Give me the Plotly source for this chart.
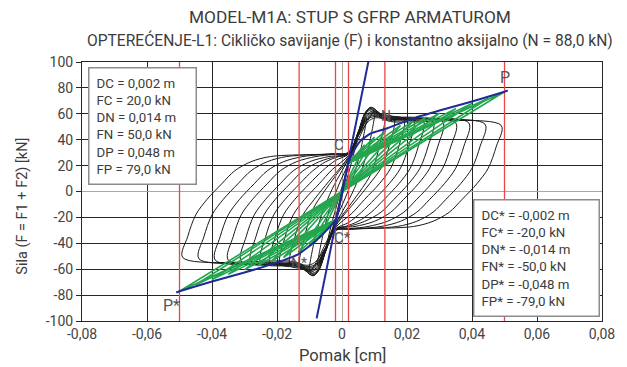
import plotly.graph_objects as go

# ---------------- data ----------------
X_TICKS = [-0.08, -0.06, -0.04, -0.02, 0, 0.02, 0.04, 0.06, 0.08]
X_TICK_TEXT = ["-0,08", "-0,06", "-0,04", "-0,02", "0", "0,02", "0,04", "0,06", "0,08"]
Y_TICKS = [-100, -80, -60, -40, -20, 0, 20, 40, 60, 80, 100]
Y_TICK_TEXT = ["-100", "-80", "-60", "-40", "-20", "0", "20", "40", "60", "80", "100"]

LOOP_X = [
    [-0.049, -0.0475, -0.045, -0.0415, -0.037, -0.033, -0.028, -0.022, -0.003, 0.002, 0.005, 0.0085, 0.011, 0.015, 0.049,
     0.0475, 0.045, 0.0415, 0.037, 0.033, 0.028, 0.022, 0.003, -0.002, -0.005, -0.0085, -0.011, -0.015, -0.049],
    [-0.044, -0.0425, -0.040, -0.0365, -0.032, -0.028, -0.023, -0.017, -0.003, 0.002, 0.005, 0.008, 0.0105, 0.0145, 0.044,
     0.0425, 0.040, 0.0365, 0.032, 0.028, 0.023, 0.017, 0.003, -0.002, -0.005, -0.008, -0.0105, -0.0145, -0.044],
    [-0.039, -0.0375, -0.035, -0.0315, -0.027, -0.023, -0.018, -0.012, -0.003, 0.002, 0.005, 0.008, 0.010, 0.014, 0.039,
     0.0375, 0.035, 0.0315, 0.027, 0.023, 0.018, 0.012, 0.003, -0.002, -0.005, -0.008, -0.010, -0.014, -0.039],
    [-0.035, -0.0335, -0.031, -0.0275, -0.023, -0.019, -0.014, -0.008, -0.003, 0.002, 0.005, 0.008, 0.010, 0.014, 0.035,
     0.0335, 0.031, 0.0275, 0.023, 0.019, 0.014, 0.008, 0.003, -0.002, -0.005, -0.008, -0.010, -0.014, -0.035],
    [-0.031, -0.0295, -0.027, -0.0235, -0.019, -0.015, -0.010, -0.004, 0.002, 0.005, 0.0075, 0.0095, 0.0135, 0.031,
     0.0295, 0.027, 0.0235, 0.019, 0.015, 0.010, 0.004, -0.002, -0.005, -0.0075, -0.0095, -0.0135, -0.031],
    [-0.028, -0.0265, -0.024, -0.0205, -0.016, -0.012, -0.007, -0.002, 0.002, 0.005, 0.0075, 0.0095, 0.0135, 0.028,
     0.0265, 0.024, 0.0205, 0.016, 0.012, 0.007, 0.002, -0.002, -0.005, -0.0075, -0.0095, -0.0135, -0.028],
    [-0.025, -0.0235, -0.021, -0.0175, -0.013, -0.009, -0.005, -0.001, 0.002, 0.005, 0.0072, 0.009, 0.013, 0.025,
     0.0235, 0.021, 0.0175, 0.013, 0.009, 0.005, 0.001, -0.002, -0.005, -0.0072, -0.009, -0.013, -0.025],
    [-0.022, -0.0205, -0.018, -0.0145, -0.010, -0.006, -0.002, 0.002, 0.005, 0.0072, 0.009, 0.013, 0.022,
     0.0205, 0.018, 0.0145, 0.010, 0.006, 0.002, -0.002, -0.005, -0.0072, -0.009, -0.013, -0.022],
    [-0.019, -0.0175, -0.015, -0.0115, -0.007, -0.003, 0.002, 0.005, 0.0072, 0.009, 0.0125, 0.019,
     0.0175, 0.015, 0.0115, 0.007, 0.003, -0.002, -0.005, -0.0072, -0.009, -0.0125, -0.019],
    [-0.016, -0.0145, -0.012, -0.0085, -0.004, 0.000, 0.002, 0.005, 0.007, 0.0088, 0.012, 0.016,
     0.0145, 0.012, 0.0085, 0.004, 0.000, -0.002, -0.005, -0.007, -0.0088, -0.012, -0.016],
    [-0.013, -0.0115, -0.009, -0.0055, -0.002, 0.002, 0.005, 0.007, 0.0085, 0.0105, 0.013,
     0.0115, 0.009, 0.0055, 0.002, -0.002, -0.005, -0.007, -0.0085, -0.0105, -0.013],
    [-0.010, -0.0085, -0.006, -0.003, 0.000, 0.002, 0.005, 0.008, 0.010,
     0.0085, 0.006, 0.003, 0.000, -0.002, -0.005, -0.008, -0.010],
    [-0.0075, -0.006, -0.004, -0.001, 0.002, 0.004, 0.006, 0.0075,
     0.006, 0.004, 0.001, -0.002, -0.004, -0.006, -0.0075],
    [-0.005, -0.0035, -0.001, 0.001, 0.003, 0.005, 0.0035, 0.001, -0.001, -0.003, -0.005],
    [-0.003, -0.001, 0.001, 0.003, 0.001, -0.001, -0.003],
]
LOOP_Y = [
    [-51, -35, -18, -6, 6, 16, 23, 27, 29, 30, 43, 55, 57, 54, 51,
     35, 18, 6, -6, -16, -23, -27, -29, -30, -43, -55, -57, -54, -51],
    [-52, -35, -18, -6, 6, 16, 23, 27, 29, 30, 43, 56, 58, 55, 52,
     35, 18, 6, -6, -16, -23, -27, -29, -30, -43, -56, -58, -55, -52],
    [-53, -35, -18, -6, 6, 16, 23, 27, 29, 30, 44, 57, 59, 56, 53,
     35, 18, 6, -6, -16, -23, -27, -29, -30, -44, -57, -59, -56, -53],
    [-53, -35, -18, -6, 6, 16, 23, 27, 28.5, 29.5, 44, 58, 60, 56, 53,
     35, 18, 6, -6, -16, -23, -27, -28.5, -29.5, -44, -58, -60, -56, -53],
    [-54, -35, -18, -6, 6, 16, 23, 27, 29, 44, 58, 61, 57, 54,
     35, 18, 6, -6, -16, -23, -27, -29, -44, -58, -61, -57, -54],
    [-54, -35, -18, -6, 6, 16, 23, 27, 29, 45, 59, 62, 57, 54,
     35, 18, 6, -6, -16, -23, -27, -29, -45, -59, -62, -57, -54],
    [-55, -35, -18, -6, 6, 16, 23, 27, 29, 46, 60, 63, 58, 55,
     35, 18, 6, -6, -16, -23, -27, -29, -46, -60, -63, -58, -55],
    [-55, -35, -18, -6, 6, 16, 24, 29, 46, 61, 64, 58, 55,
     35, 18, 6, -6, -16, -24, -29, -46, -61, -64, -58, -55],
    [-56, -35, -18, -6, 6, 17, 28, 46, 61, 65, 59, 56,
     35, 18, 6, -6, -17, -28, -46, -61, -65, -59, -56],
    [-57, -35, -18, -6, 8, 20, 27, 45, 60, 65, 60, 57,
     35, 18, 6, -8, -20, -27, -45, -60, -65, -60, -57],
    [-58, -35, -14, 0, 12, 26, 44, 58, 64, 61, 58,
     35, 14, 0, -12, -26, -44, -58, -64, -61, -58],
    [-62, -38, -16, 2, 16, 25, 40, 55, 62,
     38, 16, -2, -16, -25, -40, -55, -62],
    [-57, -35, -15, 5, 22, 36, 50, 57,
     35, 15, -5, -22, -36, -50, -57],
    [-45, -28, -5, 12, 30, 45, 28, 5, -12, -30, -45],
    [-32, -12, 10, 32, 12, -10, -32],
]

# idealised (green) cycles: peak displacement and force
GREEN_A = [0.05, 0.045, 0.04, 0.035, 0.03, 0.026, 0.022, 0.018, 0.0135, 0.01, 0.007]
GREEN_F = [77, 72, 68, 64, 60.5, 57.5, 54.5, 51, 47, 42, 36]
C_POINT = (0.002, 22)
C_STAR = (-0.002, -22)

# backbone (blue)
BACKBONE_X = [-0.051, -0.05, -0.04, -0.03, -0.022, -0.0135, -0.008, -0.002,
              0.002, 0.004, 0.006, 0.009, 0.0135, 0.022, 0.03, 0.04, 0.05, 0.051]
BACKBONE_Y = [-78, -77, -69.5, -62.5, -56.5, -48.5, -38, -22,
              22, 33, 40, 45, 48.5, 56.5, 62.5, 69.5, 77, 78]
INITIAL_X = [-0.0078, 0.0085]
INITIAL_Y = [-98, 105]

# red reference displacements
RED_X = [-0.05, -0.0132, -0.002, 0.002, 0.0132, 0.05]

FONT = "Roboto"
TXT = "#3c3c3c"

fig = go.Figure()

# black loops
for lx, ly in zip(LOOP_X, LOOP_Y):
    fig.add_trace(go.Scatter(x=lx, y=ly, mode="lines",
                             line=dict(color="#1a1a1a", width=1, shape="spline", smoothing=0.9),
                             hoverinfo="skip", showlegend=False))

# green idealised cycles
gx, gy = [], []
for a, f in zip(GREEN_A, GREEN_F):
    gx += [C_POINT[0], a, -a, C_STAR[0], None]
    gy += [C_POINT[1], f, -f, C_STAR[1], None]
fig.add_trace(go.Scatter(x=gx, y=gy, mode="lines", line=dict(color="#22a64e", width=1.6),
                         hoverinfo="skip", showlegend=False))

# red vertical lines
rx, ry = [], []
for v in RED_X:
    rx += [v, v, None]
    ry += [-100, 100, None]
fig.add_trace(go.Scatter(x=rx, y=ry, mode="lines", line=dict(color="#e8474a", width=1.3),
                         hoverinfo="skip", showlegend=False))

# blue lines
fig.add_trace(go.Scatter(x=BACKBONE_X, y=BACKBONE_Y, mode="lines",
                         line=dict(color="#1f2b96", width=2, shape="spline", smoothing=0.4),
                         hoverinfo="skip", showlegend=False))
fig.add_trace(go.Scatter(x=INITIAL_X, y=INITIAL_Y, mode="lines",
                         line=dict(color="#1f2b96", width=2),
                         hoverinfo="skip", showlegend=False))

ann = []
# titles
ann.append(dict(text="MODEL-M1A: STUP S GFRP ARMATUROM", xref="paper", yref="paper",
                x=0.515, y=1.174, xanchor="center", yanchor="middle", showarrow=False,
                font=dict(family=FONT, size=17.3, color=TXT)))
ann.append(dict(text="OPTEREĆENJE-L1: Cikličko savijanje (F) i konstantno aksijalno (N = 88,0 kN)",
                xref="paper", yref="paper", x=0.515, y=1.085, xanchor="center", yanchor="middle",
                showarrow=False, font=dict(family=FONT, size=15.6, color=TXT)))
# axis titles
ann.append(dict(text="Sila (F = F1 + F2) [kN]", xref="paper", yref="paper", x=-0.116, y=0.444,
                xanchor="center", yanchor="middle",
                textangle=-90, showarrow=False, font=dict(family=FONT, size=14.5, color=TXT)))
ann.append(dict(text="Pomak [cm]", xref="paper", yref="paper", x=0.5, y=-0.135,
                xanchor="center", yanchor="middle",
                showarrow=False, font=dict(family=FONT, size=16.5, color=TXT)))
# point labels
for t, x, y, s in [("P", 0.05, 88, 16), ("N", 0.0135, 58, 14), ("C", -0.0008, 36, 15),
                   ("C*", 0.0, -36, 15), ("N*", -0.0133, -55, 14), ("P*", -0.0525, -88, 16)]:
    ann.append(dict(text=t, x=x, y=y, xref="x", yref="y", showarrow=False,
                    xanchor="center", yanchor="middle",
                    font=dict(family=FONT, size=s, color="#555555")))
# info boxes
ann.append(dict(text="DC = 0,002 m<br>FC = 20,0 kN<br>DN = 0,014 m<br>FN = 50,0 kN<br>DP = 0,048 m<br>FP = 79,0 kN",
                xref="paper", yref="paper", x=0.0115, y=0.981, xanchor="left", yanchor="top",
                align="left", showarrow=False, width=92, borderpad=7, borderwidth=1.5,
                bordercolor="#8c8c8c", bgcolor="white", font=dict(family=FONT, size=13.3, color=TXT)))
ann.append(dict(text="DC* = -0,002 m<br>FC* = -20,0 kN<br>DN* = -0,014 m<br>FN* = -50,0 kN<br>DP* = -0,048 m<br>FP* = -79,0 kN",
                xref="paper", yref="paper", x=0.996, y=0.015, xanchor="right", yanchor="bottom",
                align="left", showarrow=False, width=110, borderpad=7, borderwidth=1.5,
                bordercolor="#8c8c8c", bgcolor="white", font=dict(family=FONT, size=13.3, color=TXT)))

# page body adds an 8px offset, so the figure is sized to fit the window
fig.update_layout(
    width=619, height=359,
    margin=dict(l=74, r=25, t=54, b=46),
    paper_bgcolor="white", plot_bgcolor="white",
    font=dict(family=FONT, color=TXT),
    annotations=ann,
    showlegend=False,
)
fig.update_xaxes(range=[-0.08, 0.08], tickvals=X_TICKS, ticktext=X_TICK_TEXT,
                 showgrid=True, gridcolor="#262626", gridwidth=1,
                 zeroline=True, zerolinecolor="#a8a8a8", zerolinewidth=1.2,
                 showline=True, mirror=True, linecolor="#262626", linewidth=1,
                 ticks="", tickfont=dict(family=FONT, size=14, color="#444"))
fig.update_yaxes(range=[-100, 100], tickvals=Y_TICKS, ticktext=Y_TICK_TEXT,
                 showgrid=True, gridcolor="#262626", gridwidth=1,
                 zeroline=True, zerolinecolor="#a8a8a8", zerolinewidth=1.2,
                 showline=True, mirror=True, linecolor="#262626", linewidth=1,
                 ticks="outside", ticklen=5, tickcolor="#262626",
                 tickfont=dict(family=FONT, size=14, color="#444"))

fig.write_html("out.html")
